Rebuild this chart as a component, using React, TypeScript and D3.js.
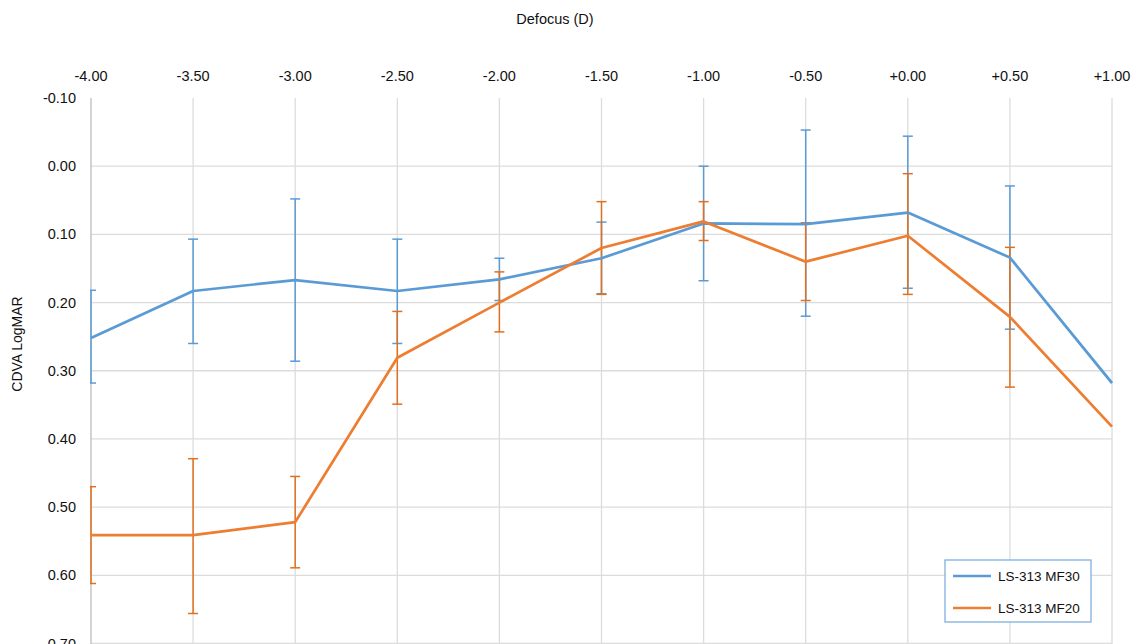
import React from "react";
import * as d3 from "d3";

const defocus = [-4.0, -3.5, -3.0, -2.5, -2.0, -1.5, -1.0, -0.5, 0.0, 0.5, 1.0];
const xTickLabels = ["-4.00", "-3.50", "-3.00", "-2.50", "-2.00", "-1.50", "-1.00", "-0.50", "+0.00", "+0.50", "+1.00"];
const yTicks = [-0.1, 0.0, 0.1, 0.2, 0.3, 0.4, 0.5, 0.6, 0.7];
const yTickLabels = ["-0.10", "0.00", "0.10", "0.20", "0.30", "0.40", "0.50", "0.60", "0.70"];

const mf30 = [0.252, 0.183, 0.167, 0.183, 0.166, 0.135, 0.084, 0.085, 0.068, 0.134, 0.318];
const mf30Low = [0.182, 0.107, 0.048, 0.107, 0.135, 0.082, 0.0, -0.053, -0.044, 0.029, null];
const mf30High = [0.318, 0.26, 0.286, 0.26, 0.197, 0.187, 0.168, 0.22, 0.179, 0.239, null];

const mf20 = [0.541, 0.541, 0.522, 0.281, 0.2, 0.12, 0.081, 0.14, 0.102, 0.221, 0.382];
const mf20Low = [0.47, 0.429, 0.455, 0.213, 0.155, 0.052, 0.052, 0.083, 0.011, 0.119, null];
const mf20High = [0.612, 0.656, 0.589, 0.349, 0.243, 0.188, 0.109, 0.197, 0.188, 0.324, null];

const seriesNames = ["LS-313 MF30", "LS-313 MF20"];

const W = 1132;
const H = 644;
const FONT = "'Liberation Sans', Arial, Helvetica, sans-serif";
const BLUE = "#5b9bd5";
const ORANGE = "#ed7d31";
const ORANGE_ERR = "#e0701f";

export default function App() {
  const x = d3.scaleLinear().domain([-4, 1]).range([91, 1112]);
  const y = d3.scaleLinear().domain([-0.1, 0.7]).range([98, 643.5]);

  const line = d3
    .line<number>()
    .x((_, i) => x(defocus[i]))
    .y((d) => y(d));

  const series = [
    { name: seriesNames[0], vals: mf30, lo: mf30Low, hi: mf30High, color: BLUE, err: BLUE },
    { name: seriesNames[1], vals: mf20, lo: mf20Low, hi: mf20High, color: ORANGE, err: ORANGE_ERR },
  ];

  return (
    <svg width={W} height={H} style={{ position: "absolute", left: 0, top: 0, background: "#fff" }}>
      <defs>
        <clipPath id="plot">
          <rect x={x(-4) - 1} y={y(-0.1)} width={x(1) - x(-4) + 2} height={H - y(-0.1)} />
        </clipPath>
      </defs>
      <rect x={0} y={0} width={W} height={H} fill="#fff" />
      {yTicks.slice(1).map((t) => (
        <line key={"h" + t} x1={x(-4)} x2={x(1)} y1={y(t)} y2={y(t)} stroke="#dcdcdc" strokeWidth={1.3} />
      ))}
      {defocus.map((d, i) => (
        <line
          key={"v" + d}
          x1={x(d)}
          x2={x(d)}
          y1={y(-0.1)}
          y2={H}
          stroke={i === 0 ? "#bdbdbd" : "#dcdcdc"}
          strokeWidth={1.3}
        />
      ))}
      <text x={555} y={24} textAnchor="middle" fontFamily={FONT} fontSize={14.5} fill="#111">
        Defocus (D)
      </text>
      {defocus.map((d, i) => (
        <text key={"xt" + d} x={x(d)} y={81} textAnchor="middle" fontFamily={FONT} fontSize={14.5} fill="#111">
          {xTickLabels[i]}
        </text>
      ))}
      {yTicks.map((t, i) => (
        <text
          key={"yt" + t}
          x={76}
          y={y(t) + 5}
          textAnchor="end"
          fontFamily={FONT}
          fontSize={14.5}
          fill="#111"
        >
          {yTickLabels[i]}
        </text>
      ))}
      <text
        transform={`translate(22,344) rotate(-90)`}
        textAnchor="middle"
        fontFamily={FONT}
        fontSize={14}
        fill="#111"
      >
        CDVA LogMAR
      </text>
      <g clipPath="url(#plot)">
        {series.map((s) => (
          <g key={s.name}>
            {s.vals.map((v, i) => {
              const lo = s.lo[i];
              const hi = s.hi[i];
              if (lo == null || hi == null) return null;
              const cx = x(defocus[i]);
              return (
                <g key={i} stroke={s.err} strokeWidth={1.5}>
                  <line x1={cx} x2={cx} y1={y(lo)} y2={y(hi)} />
                  <line x1={cx - 5} x2={cx + 5} y1={y(lo)} y2={y(lo)} />
                  <line x1={cx - 5} x2={cx + 5} y1={y(hi)} y2={y(hi)} />
                </g>
              );
            })}
          </g>
        ))}
        {series.map((s) => (
          <path key={"l" + s.name} d={line(s.vals) || ""} fill="none" stroke={s.color} strokeWidth={2.7} strokeLinejoin="round" />
        ))}
      </g>
      <g>
        <rect x={945} y={560} width={146} height={62} fill="#fff" stroke="#7fb0e0" strokeWidth={1.3} />
        {series.map((s, i) => (
          <g key={"lg" + s.name}>
            <line x1={953} x2={991} y1={576 + i * 32} y2={576 + i * 32} stroke={s.color} strokeWidth={2.7} />
            <text x={998} y={581 + i * 32} fontFamily={FONT} fontSize={13.5} fill="#111">
              {s.name}
            </text>
          </g>
        ))}
      </g>
    </svg>
  );
}
